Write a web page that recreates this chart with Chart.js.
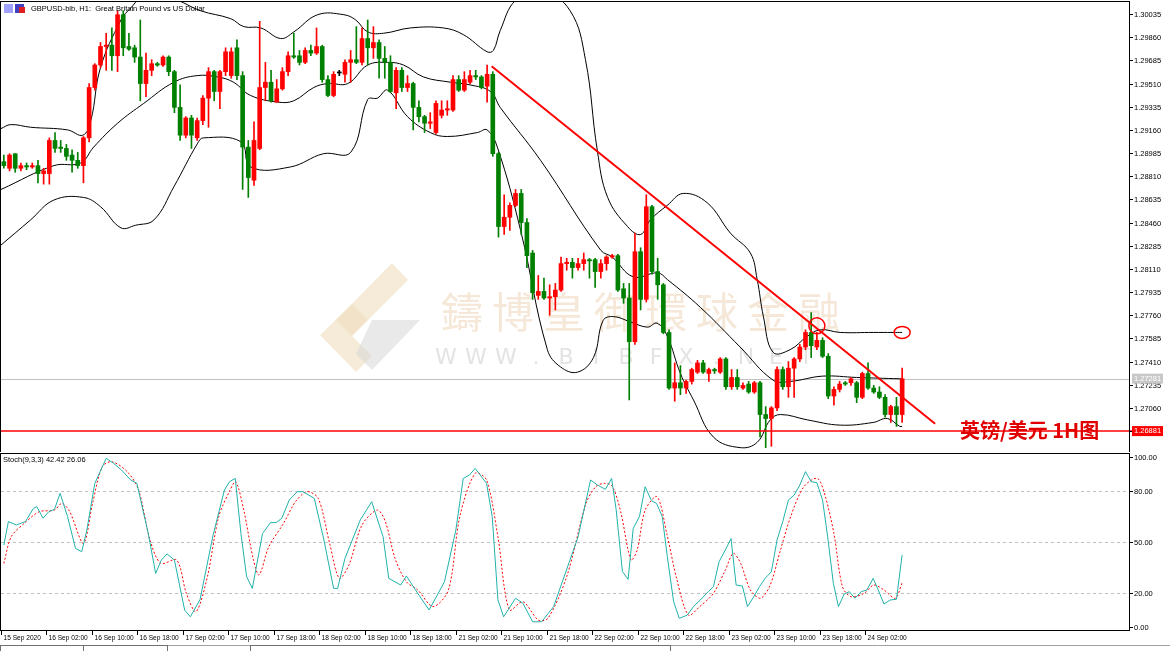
<!DOCTYPE html>
<html><head><meta charset="utf-8">
<script src="https://cdn.jsdelivr.net/npm/chart.js@4.4.1/dist/chart.umd.min.js"></script>
<style>
body{margin:0;background:#fff;width:1170px;height:651px;overflow:hidden;position:relative;font-family:"DejaVu Sans",sans-serif}
canvas{position:absolute;left:0}
</style></head><body>
<canvas id="main" width="1170" height="452" style="top:0"></canvas>
<canvas id="stoch" width="1170" height="199" style="top:452px"></canvas>
<script>
// ---- data ----
const timeLabels=["15 Sep 2020","16 Sep 02:00","16 Sep 10:00","16 Sep 18:00","17 Sep 02:00","17 Sep 10:00","17 Sep 18:00","18 Sep 02:00","18 Sep 10:00","18 Sep 18:00","21 Sep 02:00","21 Sep 10:00","21 Sep 18:00","22 Sep 02:00","22 Sep 10:00","22 Sep 18:00","23 Sep 02:00","23 Sep 10:00","23 Sep 18:00","24 Sep 02:00"];
const labelEvery=8;
const openP=[1.2892,1.2887,1.2898,1.2887,1.2889,1.2888,1.2889,1.2883,1.2883,1.2908,1.2903,1.2902,1.2897,1.2893,1.2889,1.2910,1.2948,1.2965,1.2979,1.2980,1.2972,1.3003,1.2979,1.2978,1.2971,1.2951,1.2961,1.2966,1.2965,1.2971,1.2960,1.2933,1.2912,1.2925,1.2910,1.2923,1.2940,1.2960,1.2945,1.2960,1.2957,1.2978,1.2957,1.2903,1.2878,1.2902,1.2948,1.2952,1.2937,1.2947,1.2960,1.2972,1.2972,1.2967,1.2976,1.2974,1.2979,1.2954,1.2942,1.2959,1.2958,1.2967,1.2969,1.2967,1.2985,1.2978,1.2982,1.2970,1.2967,1.2944,1.2961,1.2948,1.2951,1.2933,1.2926,1.2921,1.2914,1.2927,1.2931,1.2931,1.2954,1.2946,1.2952,1.2957,1.2956,1.2949,1.2958,1.2898,1.2843,1.2850,1.2859,1.2868,1.2846,1.2823,1.2791,1.2794,1.2789,1.2790,1.2795,1.2815,1.2816,1.2812,1.2815,1.2818,1.2818,1.2809,1.2815,1.2820,1.2821,1.2796,1.2789,1.2756,1.2824,1.2788,1.2858,1.2809,1.2799,1.2763,1.2721,1.2725,1.2721,1.2726,1.2733,1.2740,1.2732,1.2735,1.2733,1.2743,1.2722,1.2729,1.2721,1.2724,1.2718,1.2725,1.2701,1.2698,1.2706,1.2735,1.2722,1.2736,1.2743,1.2752,1.2763,1.2752,1.2757,1.2745,1.2715,1.2720,1.2725,1.2725,1.2725,1.2714,1.2732,1.2721,1.2718,1.2714,1.2701,1.2707,1.2701];
const highP=[1.2897,1.2898,1.2898,1.2891,1.2891,1.2891,1.2893,1.2887,1.2910,1.2914,1.2908,1.2905,1.2901,1.2899,1.2911,1.2951,1.2966,1.2982,1.2989,1.2993,1.3006,1.3006,1.2989,1.2980,1.2999,1.2974,1.2969,1.2967,1.2972,1.2972,1.2961,1.2950,1.2926,1.2927,1.2925,1.2942,1.2963,1.2961,1.2961,1.2978,1.2978,1.2984,1.2960,1.2908,1.2922,1.2998,1.2967,1.2961,1.2954,1.2963,1.2975,1.2989,1.2976,1.2978,1.2980,1.2993,1.2980,1.2957,1.2960,1.2961,1.2969,1.2976,1.2994,1.2993,1.2999,1.2994,1.2984,1.2979,1.2972,1.2963,1.2963,1.2957,1.2952,1.2938,1.2927,1.2929,1.2938,1.2938,1.2938,1.2957,1.2957,1.2960,1.2961,1.2961,1.2957,1.2965,1.2960,1.2899,1.2867,1.2861,1.2871,1.2871,1.2849,1.2825,1.2806,1.2804,1.2799,1.2800,1.2820,1.2819,1.2819,1.2819,1.2823,1.2819,1.2819,1.2818,1.2821,1.2822,1.2822,1.2800,1.2800,1.2838,1.2827,1.2867,1.2859,1.2819,1.2800,1.2765,1.2740,1.2738,1.2727,1.2736,1.2742,1.2742,1.2736,1.2736,1.2744,1.2744,1.2735,1.2735,1.2725,1.2726,1.2726,1.2726,1.2707,1.2707,1.2737,1.2737,1.2741,1.2744,1.2754,1.2765,1.2778,1.2763,1.2759,1.2747,1.2722,1.2726,1.2726,1.2729,1.2726,1.2733,1.2740,1.2723,1.2722,1.2716,1.2708,1.2714,1.2736];
const lowP=[1.2887,1.2885,1.2884,1.2885,1.2886,1.2887,1.2876,1.2875,1.2875,1.2899,1.2899,1.2893,1.2884,1.2887,1.2876,1.2907,1.2946,1.2963,1.2961,1.2961,1.2960,1.2972,1.2976,1.2967,1.2938,1.2941,1.2957,1.2964,1.2964,1.2957,1.2929,1.2908,1.2910,1.2902,1.2908,1.2920,1.2918,1.2938,1.2932,1.2957,1.2955,1.2954,1.2871,1.2865,1.2874,1.2901,1.2938,1.2937,1.2937,1.2946,1.2957,1.2970,1.2965,1.2966,1.2972,1.2973,1.2952,1.2941,1.2941,1.2957,1.2952,1.2952,1.2966,1.2965,1.2965,1.2970,1.2955,1.2955,1.2944,1.2932,1.2945,1.2945,1.2916,1.2922,1.2914,1.2917,1.2913,1.2925,1.2927,1.2930,1.2945,1.2945,1.2951,1.2954,1.2947,1.2937,1.2896,1.2835,1.2837,1.2840,1.2858,1.2837,1.2812,1.2788,1.2788,1.2788,1.2776,1.2780,1.2794,1.2810,1.2804,1.2810,1.2810,1.2804,1.2797,1.2804,1.2810,1.2819,1.2794,1.2785,1.2712,1.2754,1.2780,1.2786,1.2807,1.2788,1.2762,1.2720,1.2711,1.2716,1.2717,1.2724,1.2732,1.2732,1.2726,1.2732,1.2732,1.2720,1.2720,1.2720,1.2720,1.2717,1.2717,1.2684,1.2676,1.2677,1.2704,1.2720,1.2714,1.2714,1.2741,1.2750,1.2744,1.2750,1.2744,1.2713,1.2708,1.2718,1.2723,1.2723,1.2710,1.2713,1.2720,1.2717,1.2713,1.2699,1.2695,1.2692,1.2695];
const closeP=[1.2889,1.2897,1.2887,1.2889,1.2888,1.2889,1.2883,1.2885,1.2908,1.2902,1.2902,1.2896,1.2893,1.2889,1.2910,1.2948,1.2965,1.2979,1.2980,1.2972,1.3003,1.2978,1.2977,1.2971,1.2951,1.2961,1.2966,1.2965,1.2971,1.2960,1.2933,1.2912,1.2925,1.2912,1.2923,1.2940,1.2960,1.2945,1.2960,1.2975,1.2975,1.2957,1.2903,1.2880,1.2908,1.2948,1.2952,1.2938,1.2947,1.2960,1.2972,1.2971,1.2967,1.2976,1.2974,1.2979,1.2954,1.2942,1.2958,1.2959,1.2967,1.2969,1.2967,1.2985,1.2978,1.2982,1.2970,1.2967,1.2945,1.2961,1.2948,1.2951,1.2933,1.2926,1.2921,1.2922,1.2936,1.2931,1.2932,1.2954,1.2946,1.2954,1.2957,1.2956,1.2948,1.2958,1.2898,1.2843,1.2850,1.2859,1.2868,1.2846,1.2821,1.2793,1.2794,1.2789,1.2790,1.2795,1.2815,1.2816,1.2812,1.2815,1.2818,1.2817,1.2809,1.2815,1.2820,1.2821,1.2795,1.2789,1.2756,1.2824,1.2788,1.2858,1.2809,1.2799,1.2763,1.2721,1.2725,1.2721,1.2726,1.2735,1.2740,1.2733,1.2735,1.2734,1.2743,1.2722,1.2729,1.2722,1.2723,1.2718,1.2725,1.2701,1.2698,1.2706,1.2735,1.2722,1.2736,1.2743,1.2752,1.2763,1.2753,1.2757,1.2745,1.2715,1.2720,1.2724,1.2724,1.2728,1.2714,1.2732,1.2721,1.2718,1.2714,1.2701,1.2707,1.2701,1.2728];
const bbUpperIdx=[-0.5,1.2,4.7,11.2,13.9,15.3,17,20.6,22.3,25.8,30.6,34.6,39.9,42.2,45.2,48.7,51,55.2,59.8,61.9,64,66.8,71.5,77.3,80.8,85,86.1,87.3,90,94.4,99.6,102.3,104.4,106.2,109.7,112,113.7,116.7,119.5,123.7,127.8,131.3,132.5,133.6,135.3,138.3,141.3,143.6,147.1,152.9,156.4,158];
const bbUpper=[1.2917,1.2920,1.2918,1.2916,1.2912,1.2923,1.2963,1.2999,1.3008,1.3022,1.3014,1.3006,1.3000,1.2994,1.2993,1.2985,1.2990,1.3003,1.3003,1.2999,1.2990,1.2989,1.2993,1.2993,1.2988,1.2975,1.2976,1.2991,1.3014,1.3022,1.3006,1.2969,1.2900,1.2865,1.2843,1.2837,1.2848,1.2859,1.2868,1.2861,1.2838,1.2823,1.2803,1.2775,1.2748,1.2750,1.2760,1.2765,1.2763,1.2763,1.2763,1.2763];
const bbMidIdx=[-0.5,8.8,13.5,15.8,20,24.6,29.9,34,37.6,40.4,43.4,48.2,51,54.5,57,60.5,64,67.5,70.3,73.8,78.6,82,85.6,87.3,94.4,105,107,110.7,115,116.7,122.5,129.5,135.3,138.3,144,150,157.6,158];
const bbMid=[1.2871,1.2889,1.2891,1.2903,1.2921,1.2936,1.2952,1.2957,1.2956,1.2952,1.2942,1.2937,1.2938,1.2948,1.2951,1.2951,1.2965,1.2967,1.2965,1.2956,1.2952,1.2950,1.2945,1.2933,1.2893,1.2825,1.2820,1.2805,1.2808,1.2803,1.2782,1.2752,1.2727,1.2726,1.2730,1.2729,1.2728,1.2728];
const bbLowerIdx=[-0.5,4.7,8.8,14,17,20.6,23.2,26.4,29.9,34.1,35.1,41.7,43.4,50.4,56.2,61,64,65.7,67.5,71,75,78,83.3,85,86.8,90.9,95.6,97.9,100.9,103.7,105.4,107.2,110.2,113.2,114.9,116.7,119,121.3,124.8,129.5,132.5,134.8,136.6,141.3,147.1,152.9,155.4,157.6,158];
const bbLower=[1.2829,1.2848,1.2863,1.2865,1.2858,1.2842,1.2844,1.2848,1.2873,1.2906,1.2910,1.2907,1.2888,1.2888,1.2898,1.2899,1.2939,1.2940,1.2946,1.2926,1.2914,1.2911,1.2914,1.2916,1.2903,1.2840,1.2750,1.2737,1.2733,1.2744,1.2772,1.2775,1.2771,1.2767,1.2770,1.2760,1.2732,1.2712,1.2684,1.2676,1.2680,1.2697,1.2701,1.2697,1.2693,1.2695,1.2698,1.2692,1.2692];
const trendIdx=[85.8,163.8];
const trendP=[1.2964,1.2694];
const supportPrice=1.26885, supportLabel="1.26881";
const lastPrice=1.27281, lastLabel="1.27281";
const circleIdx=[143,158], circleP=[1.2768,1.2763];
const priceTicks=[1.30035,1.29860,1.29685,1.29510,1.29335,1.29160,1.28985,1.28810,1.28635,1.28460,1.28285,1.28110,1.27935,1.27760,1.27585,1.27410,1.27235,1.27060,1.26885];
const stochKIdx=[0,0.8,2.2,3.8,5.2,5.8,6.9,7.9,8.9,9.9,11.2,12.6,13.7,14.6,16,18,19.3,20.7,22.3,23.4,25.4,26.7,27.7,28.7,30,31.8,32.8,34.5,36.8,38.8,39.7,40.7,41.7,42.7,43.7,45.5,46.9,47.9,48.9,50.2,51.6,52.6,54.6,56.3,58,58.7,60,62.7,64.7,66.7,67.7,69.8,70.8,72.8,74.8,77.5,79.5,80.8,81.9,82.9,84.9,85.9,86.9,87.9,90,91.3,93,94.6,96.7,101,103.2,104.4,105.8,106.9,107.7,108.8,109.8,110.7,111.8,112.8,113.9,114.8,115.8,116.7,117.8,118.8,120.2,121.3,122.5,123.9,124.8,125.8,126.9,127.9,128.8,129.9,130.8,131.9,132.9,133.9,135,136,137,138,139,140,141,142,143,144,144.9,145.9,146.8,147.8,148.7,149.7,150.8,151.8,152.9,153.8,154.8,155.9,157,158];
const stochK=[48.2,62,60,62,69.8,70.8,64,67.8,69.2,78.6,65,46.3,44.3,57,84.5,99.2,96.3,92.3,86.5,84.5,55,31.5,39.4,43,39.4,10,6,16,54,80.6,85.5,87.4,55,29.6,22.7,55,61.4,61.4,64,74.7,79.6,79.6,75.7,51.2,22.7,22.7,40.4,63,73.7,53.1,28.6,24.7,30,19.8,10,26.6,57,87.4,89.4,93.3,84.5,65,16,6,16.9,14,3.1,3.1,12,53,86.5,83.5,81,87.4,69,32.6,28,58,65,82.5,74.3,72.7,65,41.4,15,5.1,7,12,15.9,20.8,23.7,38.4,45.3,52,24.7,24.1,12,17.8,23.7,28.6,32.5,51.2,62,74.7,77.6,83.5,91.4,85.5,84.9,74.7,53.1,25.7,12,19.4,20.8,16.9,20.8,21.8,28.6,21.8,13.5,15.9,16.3,42.42];
const stochDIdx=[0,1.3,3.6,6.2,8.9,10.2,11.6,14,15.6,17.3,19,21.7,23.7,25.7,27.6,30.4,32.1,33.8,35.8,37.8,39.8,40.8,42.2,43.9,44.9,46.6,49.2,51.3,53.3,55.3,57.3,59,60.7,63,65.7,67.1,68.8,70.8,72.8,75.5,78.2,80.2,82.9,84.9,86.9,88.9,91.3,94,95.7,99,102.4,104.1,105.6,107,108.5,110.3,111.4,112.8,114.9,116.6,118.4,120.4,122.4,124.8,126.9,128.3,129.6,131.3,133.1,134.8,136.6,138.4,140.7,143.1,144.5,146,147.5,149,151.3,153,154.8,156.8,158];
const stochD=[37.4,53.1,61,67.8,68.8,72.7,67.8,49.2,72.7,94.3,97.2,91.4,80.6,51.2,37.4,39.4,19.8,9,29.6,65,80.6,85.5,68.8,39.4,30.6,47.2,61,73.7,79.6,75.7,49.2,28.6,36.5,60,68.8,62,40.4,26.6,21.8,12,21.8,65,90.4,86.5,53.1,10,14.9,4.1,5.1,29.6,72.7,82.5,84.5,82.9,67.8,39.4,45.3,68.8,76.6,55,27.6,7,12,19.8,33.5,43.3,37.4,21.8,16.9,24.7,45.3,65,82.5,87.4,76.6,55,23.7,17.8,19.8,24.7,21.8,16.9,26.06];
const stochLevels=[80,50,20];
const stochTicks=[0,20,50,80,100];

// ---- build ----
const candleCol=i=>closeP[i]>openP[i]?'#ff0000':(closeP[i]<openP[i]?'#008000':'#000000');
const cols=openP.map((_,i)=>candleCol(i));
const wicks=openP.map((_,i)=>({x:i,y:[lowP[i],highP[i]]}));
const bodies=openP.map((_,i)=>({x:i,y:[openP[i],closeP[i]]}));
const pts=(xs,ys)=>xs.map((x,i)=>({x,y:ys[i]}));
const mkX=()=>({type:'linear',min:-0.5,max:197.9,display:false,offset:false,bounds:'ticks'});
const AXW=41;
const TF='"Liberation Sans"';

function drawYAxis(g,a,y,ticks,fmt){
  g.strokeStyle='#000';g.lineWidth=1;g.fillStyle='#000';
  g.font='7.5px '+TF;g.textAlign='left';g.textBaseline='middle';
  ticks.forEach(v=>{const p=Math.round(y.getPixelForValue(v))+0.5;
    g.beginPath();g.moveTo(a.right,p);g.lineTo(a.right+4,p);g.stroke();
    g.fillText(fmt(v),a.right+5,p);});
}

const mainPlugin={id:'mainDeco',
 beforeDatasetsDraw(c){const g=c.ctx,a=c.chartArea;
  g.save();
  g.fillStyle='rgba(240,222,190,0.6)';
  g.beginPath();g.moveTo(392,263);g.lineTo(408,280);g.lineTo(352,336);g.lineTo(336,320);g.closePath();g.fill();
  g.beginPath();g.moveTo(320,335);g.lineTo(352,304);g.lineTo(368,320);g.lineTo(352,336);g.lineTo(372,356);g.lineTo(356,372);g.closePath();g.fill();
  g.fillStyle='rgba(215,215,215,0.55)';
  g.beginPath();g.moveTo(372,320);g.lineTo(420,320);g.lineTo(372,370);g.lineTo(356,354);g.closePath();g.fill();
  g.fillStyle='rgba(238,214,184,0.55)';g.font='42px "Noto Sans CJK TC"';g.textAlign='center';g.textBaseline='middle';
  [...'鑄博皇御環球金融'].forEach((ch,i)=>g.fillText(ch,462+i*51,312));
  g.fillStyle='rgba(200,200,200,0.5)';g.font='22px "DejaVu Sans"';
  [...'WWW.BIBFX.NET'].forEach((ch,i)=>g.fillText(ch,446+i*30,358));
  const y=c.scales.y;
  g.strokeStyle='#c0c0c0';g.lineWidth=1;g.beginPath();
  const yl=Math.round(y.getPixelForValue(lastPrice))+0.5;g.moveTo(a.left,yl);g.lineTo(a.right,yl);g.stroke();
  g.restore();},
 afterDraw(c){const g=c.ctx,a=c.chartArea,y=c.scales.y,x=c.scales.x;
  g.save();
  g.strokeStyle='#ff0000';g.lineWidth=1.5;
  const ys=y.getPixelForValue(supportPrice);
  g.beginPath();g.moveTo(a.left,ys);g.lineTo(a.right+4,ys);g.stroke();
  circleIdx.forEach((ci,k)=>{g.beginPath();g.ellipse(x.getPixelForValue(ci),y.getPixelForValue(circleP[k]),8,k?6:8,0,0,Math.PI*2);g.stroke();});
  g.strokeStyle='#000';g.lineWidth=1;g.strokeRect(a.left-0.5,a.top-0.5,a.right-a.left+1,a.bottom-a.top+1);
  drawYAxis(g,a,y,priceTicks,v=>v.toFixed(5));
  g.font='7.5px '+TF;g.textBaseline='middle';g.textAlign='left';
  const yg=y.getPixelForValue(lastPrice);
  g.fillStyle='#c8c8c8';g.fillRect(a.right+3,yg-5,31,10);g.fillStyle='#ffffff';g.fillText(lastLabel,a.right+5,yg);
  g.fillStyle='#ff0000';g.fillRect(a.right+3,ys-5,31,10);g.fillStyle='#ffffff';g.fillText(supportLabel,a.right+5,ys);
  g.font='bold 20px "Noto Sans CJK SC"';g.fillStyle='#e00000';
  g.fillText('英镑/美元 1H图',960,430);
  g.fillStyle='#a0a0ff';g.fillRect(4,4,9,9);g.fillStyle='#4040c0';g.fillRect(15,4,9,9);g.fillStyle='#e02020';g.fillRect(19,7,6,6);
  g.fillStyle='#000';g.font='7.5px '+TF;g.fillText('GBPUSD-bib, H1:  Great Britain Pound vs US Dollar',31,9);
  g.restore();}
};

new Chart(document.getElementById('main'),{
 type:'bar',
 data:{datasets:[
  {type:'line',data:pts(bbUpperIdx,bbUpper),borderColor:'#000',borderWidth:1,pointRadius:0,tension:0.4,order:3},
  {type:'line',data:pts(bbMidIdx,bbMid),borderColor:'#000',borderWidth:1,pointRadius:0,tension:0.4,order:3},
  {type:'line',data:pts(bbLowerIdx,bbLower),borderColor:'#000',borderWidth:1,pointRadius:0,tension:0.4,order:3},
  {data:wicks,backgroundColor:cols,barThickness:1,grouped:false,order:2},
  {data:bodies,backgroundColor:cols,barThickness:4,minBarLength:1,grouped:false,order:1},
  {type:'line',data:pts(trendIdx,trendP),borderColor:'#ff0000',borderWidth:2,pointRadius:0,order:0}
 ]},
 options:{responsive:false,animation:false,devicePixelRatio:1,
  layout:{padding:{top:2,left:1,right:AXW,bottom:0}},
  plugins:{legend:{display:false},tooltip:{enabled:false}},
  scales:{x:mkX(),y:{display:false,min:1.26727,max:1.30126}}},
 plugins:[mainPlugin]
});

const stochPlugin={id:'stochDeco',
 beforeDatasetsDraw(c){const g=c.ctx,a=c.chartArea,y=c.scales.y;
  g.save();g.strokeStyle='#c0c0c0';g.setLineDash([3,3]);g.lineWidth=1;
  stochLevels.forEach(v=>{const p=Math.round(y.getPixelForValue(v))+0.5;g.beginPath();g.moveTo(a.left,p);g.lineTo(a.right,p);g.stroke();});
  g.restore();},
 afterDraw(c){const g=c.ctx,a=c.chartArea,x=c.scales.x,y=c.scales.y;
  g.save();g.strokeStyle='#000';g.lineWidth=1;g.strokeRect(a.left-0.5,a.top-0.5,a.right-a.left+1,a.bottom-a.top+1);
  drawYAxis(g,a,y,stochTicks,v=>v.toFixed(2));
  g.fillStyle='#000';g.font='7.5px '+TF;g.textBaseline='middle';g.textAlign='left';
  g.fillText('Stoch(9,3,3) 42.42 26.06',3,8);
  g.font='6.6px '+TF;
  timeLabels.forEach((t,k)=>{const px=Math.round(x.getPixelForValue(k*labelEvery))-2.5;
   g.beginPath();g.moveTo(px,a.bottom);g.lineTo(px,a.bottom+5);g.stroke();
   g.fillText(t,px+2,a.bottom+8);});
  g.strokeStyle='#a0a0a0';g.beginPath();g.moveTo(0,193.5);g.lineTo(1170,193.5);g.stroke();
  g.strokeStyle='#707070';[[0,83],[83,84],[250,420]].forEach(r=>{g.strokeRect(r[0]+0.5,193.5,r[1],6);});
  g.restore();}
};

new Chart(document.getElementById('stoch'),{
 type:'line',
 data:{datasets:[
  {data:pts(stochKIdx,stochK),borderColor:'#20b2aa',borderWidth:1,pointRadius:0,tension:0},
  {data:pts(stochDIdx,stochD),borderColor:'#ff0000',borderWidth:1,borderDash:[2,2],pointRadius:0,tension:0.3}
 ]},
 options:{responsive:false,animation:false,devicePixelRatio:1,
  layout:{padding:{top:2,left:1,right:AXW,bottom:21}},
  plugins:{legend:{display:false},tooltip:{enabled:false}},
  scales:{x:mkX(),y:{display:false,min:-1.76,max:101.76}}},
 plugins:[stochPlugin]
});
</script></body></html>
